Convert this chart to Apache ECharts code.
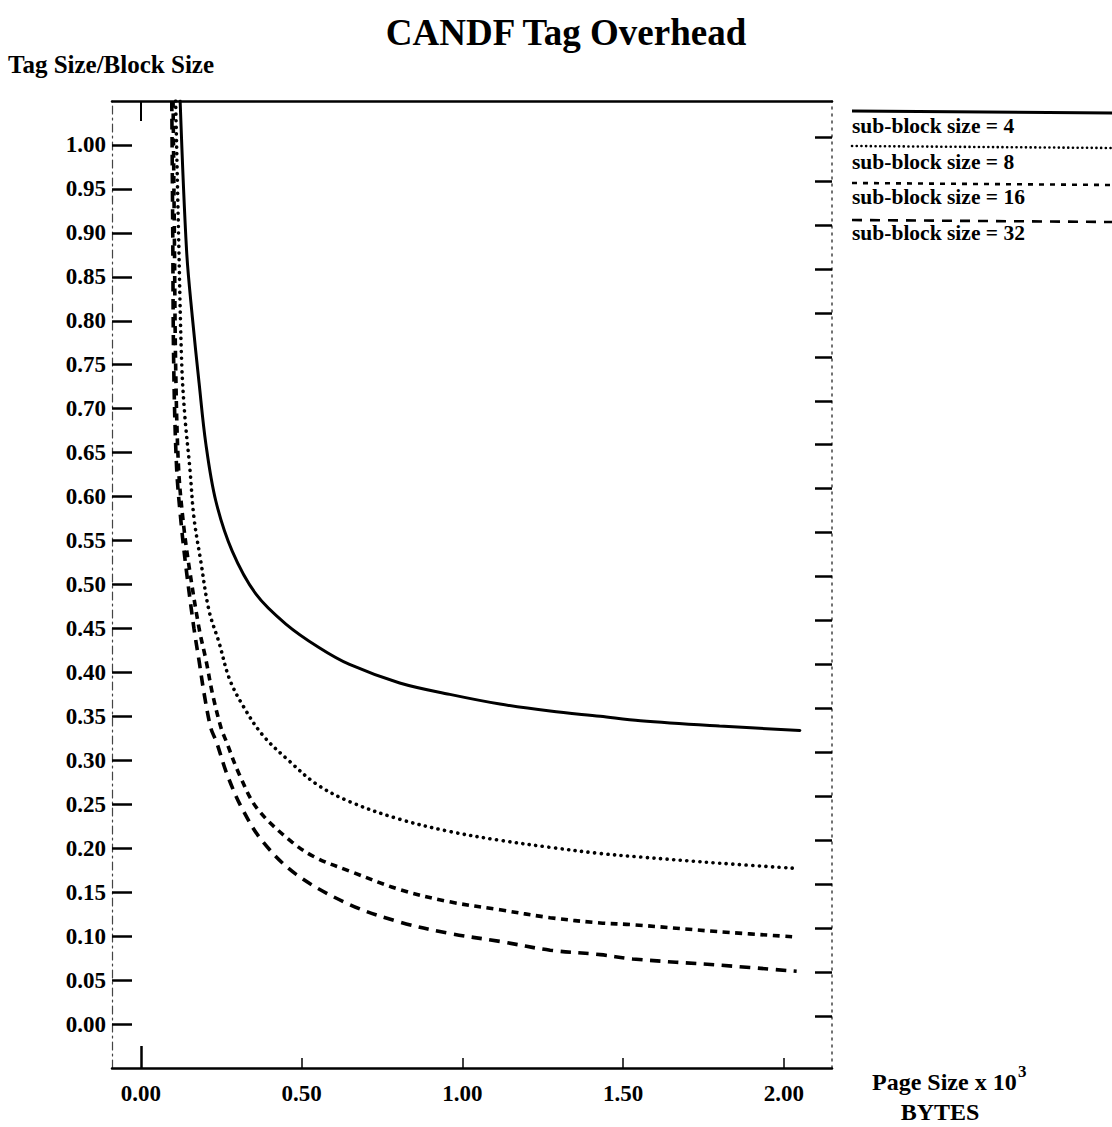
<!DOCTYPE html>
<html><head><meta charset="utf-8">
<script src="https://cdn.jsdelivr.net/npm/echarts@6/dist/echarts.min.js"></script>
<style>html,body{margin:0;padding:0;background:#fff}#c{width:1112px;height:1127px}</style>
</head><body><div id="c"></div>
<script>
const chartTitle = 'CANDF Tag Overhead';
const yAxisTitle = 'Tag Size/Block Size';
const xAxisTitle = 'Page Size x 10';
const xAxisTitleSup = '3';
const xAxisUnit = 'BYTES';
const seriesNames = ['sub-block size = 4', 'sub-block size = 8', 'sub-block size = 16', 'sub-block size = 32'];
const xTickValues = [0, 0.5, 1, 1.5, 2];
const yTickValues = [0.00, 0.05, 0.10, 0.15, 0.20, 0.25, 0.30, 0.35, 0.40, 0.45, 0.50,
                     0.55, 0.60, 0.65, 0.70, 0.75, 0.80, 0.85, 0.90, 0.95, 1.00];

// sub-block size = 4 (solid)
const sb4X = [0.122, 0.142, 0.160, 0.181, 0.202, 0.233, 0.284, 0.358, 0.451, 0.555, 0.649, 0.805, 0.961, 1.117, 1.273, 1.429, 1.554, 1.800, 2.050];
const sb4Y = [1.050, 0.880, 0.804, 0.729, 0.660, 0.595, 0.538, 0.489, 0.455, 0.428, 0.409, 0.388, 0.375, 0.364, 0.356, 0.350, 0.345, 0.339, 0.334];
// sub-block size = 8 (dotted)
const sb8X = [0.108, 0.117, 0.127, 0.137, 0.152, 0.165, 0.186, 0.212, 0.243, 0.275, 0.316, 0.378, 0.462, 0.546, 0.649, 0.805, 0.961, 1.117, 1.273, 1.429, 1.554, 1.800, 2.040];
const sb8Y = [1.050, 0.900, 0.750, 0.690, 0.633, 0.576, 0.527, 0.470, 0.434, 0.393, 0.363, 0.329, 0.299, 0.273, 0.253, 0.233, 0.219, 0.209, 0.201, 0.194, 0.190, 0.183, 0.177];
// sub-block size = 16 (short dashes)
const sb16X = [0.100, 0.104, 0.108, 0.117, 0.132, 0.150, 0.181, 0.203, 0.223, 0.250, 0.265, 0.306, 0.362, 0.470, 0.546, 0.649, 0.805, 0.961, 1.117, 1.273, 1.429, 1.530, 1.800, 2.040];
const sb16Y = [1.050, 0.900, 0.750, 0.633, 0.570, 0.520, 0.450, 0.413, 0.375, 0.336, 0.322, 0.284, 0.245, 0.207, 0.189, 0.174, 0.153, 0.139, 0.130, 0.121, 0.115, 0.113, 0.105, 0.099];
// sub-block size = 32 (long dashes)
const sb32X = [0.096, 0.099, 0.102, 0.111, 0.125, 0.140, 0.165, 0.181, 0.197, 0.218, 0.234, 0.268, 0.315, 0.378, 0.484, 0.649, 0.805, 0.961, 1.117, 1.273, 1.429, 1.530, 1.800, 2.040];
const sb32Y = [1.050, 0.900, 0.750, 0.633, 0.570, 0.520, 0.450, 0.413, 0.375, 0.336, 0.322, 0.284, 0.245, 0.208, 0.170, 0.136, 0.116, 0.103, 0.094, 0.084, 0.079, 0.074, 0.067, 0.060];

const FONT = '"Liberation Serif", "Times New Roman", serif';
const zip = (xs, ys) => xs.map((x, i) => [x, ys[i]]);

const styles = [
  { type: 'solid', width: 3, cap: 'round' },
  { type: [0.1, 6.5], width: 3.6, cap: 'round' },
  { type: [7, 5.5], width: 3.6, cap: 'butt' },
  { type: [10.5, 7.5], width: 3.6, cap: 'butt' }
];
const legendDash = [null, [0.1, 4.6], [5, 6], [10, 8]];
const seriesData = [zip(sb4X, sb4Y), zip(sb8X, sb8Y), zip(sb16X, sb16Y), zip(sb32X, sb32Y)];

const labelStyle = { fontFamily: FONT, fontWeight: 'bold', fontSize: 23, color: '#000' };

const graphic = [
  { type: 'text', x: 566, y: 32, style: { text: chartTitle, fontFamily: FONT, fontWeight: 'bold', fontSize: 37, fill: '#000', align: 'center', verticalAlign: 'middle' } },
  { type: 'text', x: 8, y: 64, style: { text: yAxisTitle, fontFamily: FONT, fontWeight: 'bold', fontSize: 25, fill: '#000', align: 'left', verticalAlign: 'middle' } },
  { type: 'text', x: 872, y: 1082, style: { text: xAxisTitle, fontFamily: FONT, fontWeight: 'bold', fontSize: 24, fill: '#000', align: 'left', verticalAlign: 'middle' } },
  { type: 'text', x: 1018, y: 1071, style: { text: xAxisTitleSup, fontFamily: FONT, fontWeight: 'bold', fontSize: 17, fill: '#000', align: 'left', verticalAlign: 'middle' } },
  { type: 'text', x: 940, y: 1112, style: { text: xAxisUnit, fontFamily: FONT, fontWeight: 'bold', fontSize: 24, fill: '#000', align: 'center', verticalAlign: 'middle' } }
];
const legendLineY = [111, 146, 183, 220];
const legendTextY = [126, 162, 197, 233];
seriesNames.forEach((name, i) => {
  const st = { stroke: '#000', lineWidth: i === 0 ? 3 : 2.6, lineCap: i === 1 ? 'round' : 'butt' };
  if (legendDash[i]) st.lineDash = legendDash[i];
  graphic.push({ type: 'line', shape: { x1: 852, y1: legendLineY[i], x2: 1112, y2: legendLineY[i] + 2 }, style: st });
  graphic.push({ type: 'text', x: 852, y: legendTextY[i], style: { text: name, fontFamily: FONT, fontWeight: 'bold', fontSize: 21.5, fill: '#000', align: 'left', verticalAlign: 'middle' } });
});

const xMin = -0.09, xMax = 2.15;
const option = {
  animation: false,
  backgroundColor: '#fff',
  grid: { left: 112, right: 280, top: 101, bottom: 59, containLabel: false },
  xAxis: [
    { type: 'value', position: 'bottom', min: xMin, max: xMax,
      axisLine: { show: true, onZero: false, lineStyle: { color: '#000', width: 2.5 } },
      axisTick: { show: true, inside: true, length: 10, customValues: xTickValues.slice(1), lineStyle: { color: '#000', width: 1.5 } },
      axisLabel: { show: true, customValues: xTickValues, margin: 14, formatter: v => v.toFixed(2), ...labelStyle },
      splitLine: { show: false } },
    { type: 'value', position: 'bottom', min: xMin, max: xMax,
      axisLine: { show: false, onZero: false },
      axisTick: { show: true, inside: true, length: 22, customValues: [xTickValues[0]], lineStyle: { color: '#000', width: 2.5 } },
      axisLabel: { show: false }, splitLine: { show: false } },
    { type: 'value', position: 'top', min: xMin, max: xMax,
      axisLine: { show: true, onZero: false, lineStyle: { color: '#000', width: 2.5 } },
      axisTick: { show: true, inside: true, length: 20, customValues: [xTickValues[0]], lineStyle: { color: '#000', width: 2 } },
      axisLabel: { show: false }, splitLine: { show: false } }
  ],
  yAxis: [
    { type: 'value', position: 'left', min: -0.05, max: 1.05,
      axisLine: { show: true, onZero: false, lineStyle: { color: '#444', width: 1.2, type: [8, 4, 2, 4] } },
      axisTick: { show: true, inside: true, length: 20, customValues: yTickValues, lineStyle: { color: '#000', width: 2.5 } },
      axisLabel: { show: true, customValues: yTickValues, margin: 6, formatter: v => v.toFixed(2), ...labelStyle },
      splitLine: { show: false } },
    { type: 'value', position: 'right', min: -0.059, max: 1.041,
      axisLine: { show: true, onZero: false, lineStyle: { color: '#444', width: 1.5, type: [2, 5] } },
      axisTick: { show: true, inside: true, length: 17, customValues: yTickValues, lineStyle: { color: '#000', width: 2.5 } },
      axisLabel: { show: false }, splitLine: { show: false } }
  ],
  series: seriesNames.map((name, i) => ({
    name, type: 'line', xAxisIndex: 0, yAxisIndex: 0,
    data: seriesData[i], showSymbol: false, symbol: 'none', smooth: 0.35,
    lineStyle: { color: '#000', width: styles[i].width, type: styles[i].type, cap: styles[i].cap },
    clip: true
  })),
  graphic
};
const chart = echarts.init(document.getElementById('c'), null, { renderer: 'svg' });
chart.setOption(option);
</script>
</body></html>
